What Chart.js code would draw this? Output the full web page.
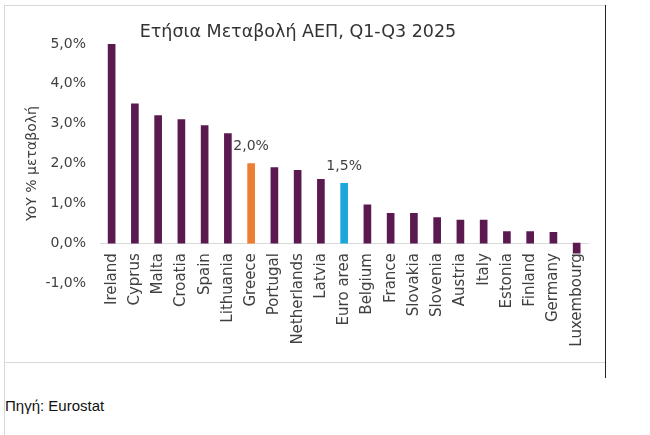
<!DOCTYPE html>
<html>
<head>
<meta charset="utf-8">
<script src="https://cdn.jsdelivr.net/npm/chart.js@4/dist/chart.umd.min.js"></script>
<style>
  html, body { margin: 0; padding: 0; background: #fff; }
  body { width: 650px; height: 435px; position: relative; overflow: hidden; }
  .frame { position: absolute; left: 4px; top: 5px; width: 601px; height: 358px;
           border-top: 1px solid #d9d9d9; border-bottom: 1px solid #d9d9d9; box-sizing: border-box; }
  .left-rule { position: absolute; left: 4px; top: 5px; width: 1px; height: 430px; background: #d9d9d9; }
  .right-rule { position: absolute; left: 605px; top: 5px; width: 1px; height: 373px; background: #222; }
  .chart-box { position: absolute; left: 5px; top: 6px; width: 600px; height: 357px; }
  .source { position: absolute; left: 5px; top: 397px; font: 15px "Liberation Sans", Arial, sans-serif; color: #111; }
</style>
</head>
<body>
<div class="frame"></div>
<div class="left-rule"></div>
<div class="right-rule"></div>
<div class="chart-box"><canvas id="gdp"></canvas></div>
<div class="source">Πηγή: Eurostat</div>
<script>
var countries = ['Ireland', 'Cyprus', 'Malta', 'Croatia', 'Spain', 'Lithuania', 'Greece', 'Portugal',
  'Netherlands', 'Latvia', 'Euro area', 'Belgium', 'France', 'Slovakia', 'Slovenia', 'Austria',
  'Italy', 'Estonia', 'Finland', 'Germany', 'Luxembourg'];
var growth = [5.0, 3.5, 3.2, 3.1, 2.95, 2.75, 2.0, 1.9, 1.83, 1.6, 1.5, 0.96, 0.75, 0.75, 0.64,
  0.58, 0.58, 0.29, 0.29, 0.27, -0.25];
var labelled = ['Greece', 'Euro area'];
var yTicks = [-1, 0, 1, 2, 3, 4, 5];

(function () {
  'use strict';

  var fontFamily = '"DejaVu Sans", sans-serif';
  var colors = { base: '#5a1a50', greece: '#ed7d31', euro: '#1ca6da', text: '#404040', axis: '#d9d9d9' };

  function pct(v) {
    return v.toFixed(1).replace('.', ',') + '%';
  }

  var barColors = countries.map(function (c) {
    if (c === 'Greece') return colors.greece;
    if (c === 'Euro area') return colors.euro;
    return colors.base;
  });

  var valueLabels = {
    id: 'valueLabels',
    afterDatasetsDraw: function (chart) {
      var ctx = chart.ctx;
      var meta = chart.getDatasetMeta(0);
      ctx.save();
      ctx.font = '14px ' + fontFamily;
      ctx.fillStyle = colors.text;
      ctx.textAlign = 'center';
      ctx.textBaseline = 'bottom';
      labelled.forEach(function (name) {
        var i = countries.indexOf(name);
        var bar = meta.data[i];
        ctx.fillText(pct(growth[i]), bar.x, bar.y - 10);
      });
      ctx.restore();
    }
  };

  new Chart(document.getElementById('gdp'), {
    type: 'bar',
    data: {
      labels: countries,
      datasets: [{
        data: growth,
        backgroundColor: barColors,
        borderWidth: 0,
        barThickness: 7
      }]
    },
    options: {
      responsive: true,
      maintainAspectRatio: false,
      animation: false,
      layout: { padding: { left: 0, right: 14, top: 0, bottom: 80 } },
      plugins: {
        legend: { display: false },
        tooltip: { enabled: false },
        title: {
          display: true,
          text: 'Ετήσια Μεταβολή ΑΕΠ, Q1-Q3 2025',
          color: '#333',
          font: { family: fontFamily, size: 17.5, weight: 'normal' },
          padding: { top: 16, bottom: 1 }
        }
      },
      scales: {
        x: {
          position: { y: 0 },
          grid: { display: false, drawTicks: false },
          border: { display: true, color: colors.axis, width: 1 },
          ticks: {
            color: colors.text,
            font: { family: fontFamily, size: 15 },
            minRotation: 90,
            maxRotation: 90,
            autoSkip: false,
            padding: 10
          }
        },
        y: {
          min: -1,
          max: 5,
          afterBuildTicks: function (scale) {
            scale.ticks = yTicks.map(function (v) { return { value: v }; });
          },
          afterFit: function (scale) { scale.width = 95; },
          grid: { display: false, drawTicks: false },
          border: { display: false },
          ticks: {
            color: colors.text,
            font: { family: fontFamily, size: 14 },
            padding: 14,
            callback: function (v) { return pct(v); }
          },
          title: {
            display: true,
            text: 'YoY % μεταβολή',
            color: colors.text,
            font: { family: fontFamily, size: 14 },
            padding: { top: 19, bottom: 0 }
          }
        }
      }
    },
    plugins: [valueLabels]
  });
})();
</script>
</body>
</html>
